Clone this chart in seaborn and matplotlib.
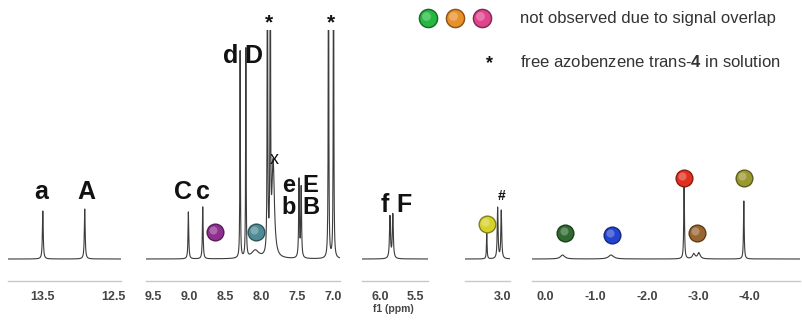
import numpy as np
import matplotlib
matplotlib.use("Agg")
import matplotlib.pyplot as plt
import matplotlib.transforms as mtransforms
from matplotlib.colors import to_rgb
import seaborn as sns

# ---- peak lists: position (ppm), height, half width ----
p1_pos = [13.50, 12.91]
p1_hgt = [48, 50]
p1_wid = [0.007, 0.007]

p2_pos = [9.01, 8.81, 8.29, 8.21, 8.08, 7.91, 7.87, 7.83, 7.47, 7.44, 7.06, 6.99]
p2_hgt = [47, 52, 207, 209, 8, 400, 400, 95, 78, 70, 400, 400]
p2_wid = [0.006, 0.006, 0.004, 0.004, 0.06, 0.004, 0.004, 0.02, 0.006, 0.006, 0.004, 0.004]

p3_pos = [5.86, 5.82]
p3_hgt = [42, 44]
p3_wid = [0.008, 0.008]

p4_pos = [3.21, 3.06, 3.01]
p4_hgt = [26, 51, 48]
p4_wid = [0.005, 0.007, 0.007]

p5_pos = [-0.35, -1.30, -2.73, -2.92, -3.02, -3.90]
p5_hgt = [4, 4, 80, 5, 6, 58]
p5_wid = [0.05, 0.06, 0.008, 0.03, 0.03, 0.008]

# panel ranges (ppm) and tick labels
panel_xlim = [(13.99, 12.40), (9.60, 6.90), (6.25, 5.33), (3.51, 2.89), (0.25, -5.0)]
panel_ticks = [[13.5, 12.5], [9.5, 9.0, 8.5, 8.0, 7.5, 7.0], [6.0, 5.5], [3.0],
               [0.0, -1.0, -2.0, -3.0, -4.0]]
panel_px = [(8, 121), (146, 340), (362, 428), (465, 510), (532, 800)]

# coloured markers: panel index, ppm, height, colour
ball_panel = [1, 1, 3, 4, 4, 4, 4, 4]
ball_ppm = [8.64, 8.07, 3.21, -0.40, -1.31, -2.73, -2.98, -3.90]
ball_y = [27, 27, 35, 26, 24, 81, 26, 81]
ball_col = ["#8f2f90", "#4f8b94", "#d6d22c", "#2f6a30", "#2443d0", "#e0301f", "#9a6630", "#9a9830"]

legend_col = ["#25b840", "#e8902a", "#e0448c"]
legend_x = [428, 455, 482]

# peak labels: panel, ppm, height (baseline of text), text, size
lab_panel = [0, 0, 1, 1, 1, 1, 1, 1, 1, 1, 1, 2, 2]
lab_ppm = [13.53, 12.89, 9.08, 8.81, 8.42, 8.10, 7.81, 7.62, 7.61, 7.31, 7.31, 5.93, 5.67]
lab_y = [60, 60, 60, 60, 196, 196, 95, 67, 45, 67, 45, 47, 47]
lab_txt = ["a", "A", "C", "c", "d", "D", "x", "e", "b", "E", "B", "f", "F"]
lab_size = [18, 18, 18, 18, 18, 18, 13, 17, 17, 17, 17, 18, 18]

star_panel = [1, 1]
star_ppm = [7.89, 7.02]

W, H = 802, 321
sns.set_theme(style="white")
plt.rcParams["font.family"] = ["Liberation Sans", "DejaVu Sans"]
plt.rcParams["axes.unicode_minus"] = False
plt.rcParams["mathtext.fontset"] = "custom"
plt.rcParams["mathtext.rm"] = "Liberation Sans"
plt.rcParams["mathtext.bf"] = "Liberation Sans:bold"

fig = plt.figure(figsize=(W / 100, H / 100), dpi=100)
fig.patch.set_facecolor("white")

peaks = [(p1_pos, p1_hgt, p1_wid), (p2_pos, p2_hgt, p2_wid), (p3_pos, p3_hgt, p3_wid),
         (p4_pos, p4_hgt, p4_wid), (p5_pos, p5_hgt, p5_wid)]

top_px, bot_px = 30, 281
axes = []
for i, (pos, hgt, wid) in enumerate(peaks):
    l, r = panel_px[i]
    ax = fig.add_axes([l / W, 1 - bot_px / H, (r - l) / W, (bot_px - top_px) / H])
    x0, x1 = panel_xlim[i]
    x = np.linspace(x1, x0, 8000)
    y = np.zeros_like(x)
    for p, h, w in zip(pos, hgt, wid):
        y += h / (1 + ((x - p) / w) ** 2)
    sns.lineplot(x=x, y=y, ax=ax, color="#3c3c3c", lw=0.8, estimator=None, sort=False)
    ax.set_xlim(x0, x1)
    ax.set_ylim(-22, 229)
    ax.set_facecolor("none")
    for s in ["top", "left", "right"]:
        ax.spines[s].set_visible(False)
    ax.spines["bottom"].set_color("#c8c8c8")
    ax.spines["bottom"].set_linewidth(1.0)
    ax.set_yticks([])
    ax.set_xticks(panel_ticks[i], labels=["%.1f" % t for t in panel_ticks[i]],
                  fontweight="bold")
    ax.tick_params(axis="x", length=2, color="#c8c8c8", labelsize=9,
                   labelcolor="#444444", pad=5)
    ax.set_xlabel("")
    axes.append(ax)


def ball(ax, x, y, col, trans=None, size=170):
    base = ax.transData if trans is None else trans
    c = np.array(to_rgb(col))
    dark = c * 0.6
    light = np.clip(c + (1 - c) * 0.45, 0, 1)
    ax.scatter([x], [y], s=size, color=dark, zorder=5, clip_on=False, transform=base, lw=0)
    ax.scatter([x], [y], s=size * 0.72, color=c, zorder=6, clip_on=False, transform=base, lw=0)
    hl = mtransforms.offset_copy(base, fig=fig, x=-1.2, y=1.5, units="points")
    ax.scatter([x], [y], s=size * 0.2, color=light, zorder=7, clip_on=False,
               transform=hl, lw=0, alpha=0.6)


for pi, px, py, pc in zip(ball_panel, ball_ppm, ball_y, ball_col):
    ball(axes[pi], px, py, pc)

for pi, px, py, t, fs in zip(lab_panel, lab_ppm, lab_y, lab_txt, lab_size):
    axes[pi].text(px, py, t, ha="center", va="baseline", fontsize=fs,
                  fontweight="bold" if t != "x" else "normal", color="#111111", clip_on=False)

for pi, px in zip(star_panel, star_ppm):
    axes[pi].text(px, 236, "*", ha="center", va="center", fontsize=15,
                  fontweight="bold", color="#111111", clip_on=False)

axes[3].text(3.0, 63, "#", ha="center", va="center", fontsize=10,
             fontweight="bold", color="#111111", clip_on=False)

fig.text(393 / W, 1 - 309 / H, "f1 (ppm)", ha="center", va="center", fontsize=7.5,
         fontweight="bold", color="#444444")

# legend in pixel coordinates
lax = fig.add_axes([0, 0, 1, 1])
lax.set_xlim(0, W)
lax.set_ylim(H, 0)
lax.axis("off")
for lx, lc in zip(legend_x, legend_col):
    ball(lax, lx, 18, lc, size=200)
lax.text(520, 18, "not observed due to signal overlap", ha="left", va="center",
         fontsize=12, color="#333333")
lax.text(489, 64, "*", ha="center", va="center", fontsize=13, fontweight="bold", color="#111111")
lax.text(520, 62, r"free azobenzene trans-$\mathbf{4}$ in solution", ha="left", va="center",
         fontsize=12, color="#333333")

fig.savefig("out.png", dpi=100, facecolor="white")
